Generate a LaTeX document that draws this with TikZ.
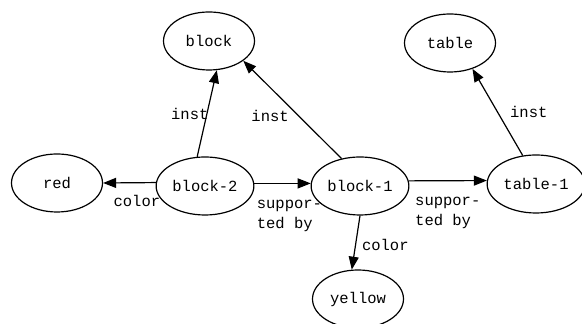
\documentclass[tikz,border=0pt]{standalone}
\usepackage{fontspec}
\setmonofont{Liberation Mono}
\usepackage{tikz}
\usetikzlibrary{positioning, shapes.geometric, arrows.meta}

\begin{document}
\begin{tikzpicture}[
    x=0.5pt, y=-0.5pt,
    concept/.style={ellipse, draw, line width=0.6pt, minimum width=45.5pt, minimum height=29pt, inner sep=1pt, font=\ttfamily\fontsize{7.75}{10}\selectfont},
    rel/.style={line width=0.6pt, -{Triangle[length=6.5pt, width=5pt]}},
    lbl/.style={font=\ttfamily\fontsize{7.75}{10}\selectfont, inner sep=1pt, align=left}
]
\useasboundingbox (0,0) rectangle (582,324);

% Concept nodes
\node[concept] (block) at (209,41) {block};
\node[concept] (table) at (450,43) {table};
\node[concept] (red) at (57,183) {red};
\node[concept] (block2) at (205,186) {block-2};
\node[concept] (block1) at (360,186) {block-1};
\node[concept] (table1) at (536,184) {table-1};
\node[concept] (yellow) at (358,299) {yellow};

% Relations and labels
\draw[rel] (block2.105) -- node[lbl, left=-2pt, pos=0.5] {inst} (block.-75);
\draw[rel] (block1.124) -- node[lbl, left=3.5pt, pos=0.44] {inst} (block.-30);
\draw[rel] (table1.115) -- node[lbl, right=5pt, pos=0.5] {inst} (table.-49);
\draw[rel] (block2.176) -- node[lbl, below=5pt, pos=0.36] {color} (red.east);
\draw[rel] (block2.3) -- node[lbl, anchor=north west, pos=0, yshift=-7pt] {suppor-\\ted by} (block1.177);
\draw[rel] (block1.6) -- node[lbl, anchor=north west, pos=0.05, yshift=-7pt] {suppor-\\ted by} (table1.176);
\draw[rel] (block1.south) -- node[lbl, right=2pt, pos=0.55] {color} (yellow.102);

\end{tikzpicture}
\end{document}
